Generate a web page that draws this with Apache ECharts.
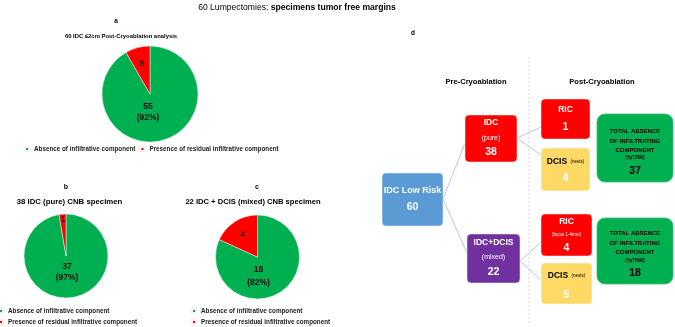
<!DOCTYPE html>
<html>
<head>
<meta charset="utf-8">
<script src="https://cdn.jsdelivr.net/npm/echarts@6/dist/echarts.min.js"></script>
<style>html,body{margin:0;padding:0;background:#fff}#c{width:675px;height:327px}</style>
</head>
<body>
<div id="c"></div>
<script>
// ---------- data ----------
const pieCategories = ['Absence of infiltrative component', 'Presence of residual infiltrative component'];
const pieAValues = [55, 5];
const pieBValues = [37, 1];
const pieCValues = [18, 4];
const pieTitles = ['60 IDC \u22642cm Post-Cryoablation analysis', '38 IDC (pure) CNB specimen', '22 IDC + DCIS (mixed) CNB specimen'];
const panelLetters = ['a', 'b', 'c', 'd'];
const mainTitleRegular = '60 Lumpectomies: ';
const mainTitleBold = 'specimens tumor free margins';
const phaseLabels = ['Pre-Cryoablation', 'Post-Cryoablation'];
// flow diagram counts
const totalCount = 60;
const pureCount = 38, mixedCount = 22;
const pureRIC = 1, pureDCIS = 4, pureFree = 37;
const mixedRIC = 4, mixedDCIS = 5, mixedFree = 18;

// ---------- styles ----------
const FF = '"Liberation Sans Narrow","Liberation Sans",Arial,sans-serif';
const GREEN = '#00B050', RED = '#FF0000';
const font = (size, bold) => (bold ? 'bold ' : '') + size + 'px ' + FF;

function txt(x, y, text, size, bold, color) {
  return { type: 'text', x: x, y: y, silent: true,
    style: { text: text, font: font(size, bold), fill: color || '#000',
      align: 'center', verticalAlign: 'middle', textAlign: 'center', textVerticalAlign: 'middle' } };
}
function box(x, y, w, h, r, fill, stroke) {
  return { type: 'rect', silent: true, shape: { x: x, y: y, width: w, height: h, r: r },
    style: { fill: fill, stroke: stroke || 'rgba(255,255,255,0.6)', lineWidth: 0.8 } };
}
function line(pts) {
  return { type: 'polyline', silent: true, shape: { points: pts }, style: { stroke: '#9DBBE0', lineWidth: 0.8, fill: null } };
}

const els = [];
// main title (mixed weights)
els.push({ type: 'text', x: 297, y: 8, silent: true,
  style: { text: '{n|' + mainTitleRegular + '}{b|' + mainTitleBold + '}', align: 'center', verticalAlign: 'middle',
    textAlign: 'center', textVerticalAlign: 'middle',
    rich: { n: { fontSize: 8.6, fontFamily: FF, color: '#000' }, b: { fontSize: 8.6, fontFamily: FF, fontWeight: 'bold', color: '#000' } } } });
// letters and pie titles
els.push(txt(116, 21, panelLetters[0], 6.5, true));
els.push(txt(66, 187, panelLetters[1], 7, true));
els.push(txt(257, 187, panelLetters[2], 7, true));
els.push(txt(413, 33, panelLetters[3], 6.5, true));
els.push(txt(121, 36, pieTitles[0], 5.9, true));
els.push(txt(69.5, 202, pieTitles[1], 7.8, true));
els.push(txt(253, 202, pieTitles[2], 7.6, true));

// dashed separator
els.push({ type: 'line', silent: true, shape: { x1: 529, y1: 57, x2: 529, y2: 325 },
  style: { stroke: '#C8C8C8', lineWidth: 0.8, lineDash: [2, 2] } });
els.push(txt(476, 82, phaseLabels[0], 7.6, true));
els.push(txt(602, 82, phaseLabels[1], 7.6, true));

// connectors
els.push(line([[465, 143], [443, 199], [467, 253]]));
els.push(line([[541, 127], [517, 138], [541, 155]]));
els.push(line([[541, 242], [520, 261], [541, 280]]));

// boxes
els.push(box(382, 173, 61, 53, 4, '#5B9BD5'));
els.push(txt(412.5, 191, 'IDC Low Risk', 9, true, '#fff'));
els.push(txt(412.5, 207, String(totalCount), 10.5, true, '#fff'));

els.push(box(465, 115, 52, 47, 4, RED));
els.push(txt(491, 123, 'IDC', 8.5, true, '#fff'));
els.push(txt(491, 138, '(pure)', 7, false, '#fff'));
els.push(txt(491, 152, String(pureCount), 10.5, true, '#fff'));

els.push(box(467, 234, 53, 49, 4, '#7030A0'));
els.push(txt(493.5, 243, 'IDC+DCIS', 8.5, true, '#fff'));
els.push(txt(493.5, 257, '(mixed)', 7, false, '#fff'));
els.push(txt(493.5, 272, String(mixedCount), 10.5, true, '#fff'));

els.push(box(541, 99, 49, 40, 4, RED));
els.push(txt(565.5, 110, 'RIC', 8.5, true, '#fff'));
els.push(txt(565.5, 127, String(pureRIC), 10.5, true, '#fff'));

els.push(box(541, 148, 49, 43, 4, '#FFD966'));
els.push({ type: 'text', x: 565.5, y: 162, silent: true, style: { text: '{b|DCIS} {s|(nests)}', align: 'center', verticalAlign: 'middle', textAlign: 'center', textVerticalAlign: 'middle',
  rich: { b: { fontSize: 8.5, fontWeight: 'bold', fontFamily: FF, color: '#fff' }, s: { fontSize: 4.5, fontFamily: FF, color: '#fff' } } } });
els.push(txt(565.5, 178, String(pureDCIS), 10.5, true, '#fff'));

els.push(box(597, 114, 76, 68, 8, GREEN, '#3CC070'));
els.push(txt(635, 131, 'TOTAL ABSENCE', 6, true, '#000'));
els.push(txt(635, 141, 'OF INFILTRATING', 6, true, '#000'));
els.push(txt(635, 150, 'COMPONENT', 6, true, '#000'));
els.push(txt(635, 157.5, '(YpT0N0)', 4.5, true, '#000'));
els.push(txt(635, 171, String(pureFree), 10.5, true, '#000'));

els.push(box(541, 214, 51, 42, 4, RED));
els.push(txt(566.5, 222, 'RIC', 8.5, true, '#fff'));
els.push(txt(566.5, 235, '(focus 1-4mm)', 4.5, false, '#fff'));
els.push(txt(566.5, 248, String(mixedRIC), 10.5, true, '#fff'));

els.push(box(541, 263, 51, 41, 4, '#FFD966'));
els.push({ type: 'text', x: 566.5, y: 276, silent: true, style: { text: '{b|DCIS} {s|(nests)}', align: 'center', verticalAlign: 'middle', textAlign: 'center', textVerticalAlign: 'middle',
  rich: { b: { fontSize: 8.5, fontWeight: 'bold', fontFamily: FF, color: '#fff' }, s: { fontSize: 4.5, fontFamily: FF, color: '#fff' } } } });
els.push(txt(566.5, 295, String(mixedDCIS), 10.5, true, '#fff'));

els.push(box(597, 218, 76, 66, 8, GREEN, '#3CC070'));
els.push(txt(635, 233, 'TOTAL ABSENCE', 6, true, '#000'));
els.push(txt(635, 243, 'OF INFILTRATING', 6, true, '#000'));
els.push(txt(635, 252, 'COMPONENT', 6, true, '#000'));
els.push(txt(635, 261, '(YpT0N0)', 4.5, true, '#000'));
els.push(txt(635, 273, String(mixedFree), 10.5, true, '#000'));

// ---------- pies ----------
function pieSeries(values, center, radius, offsets, lh) {
  return {
    type: 'pie', center: center, radius: radius, startAngle: 90, clockwise: true,
    avoidLabelOverlap: false, silent: true, animation: false, percentPrecision: 0,
    itemStyle: { borderColor: '#f2f2f2', borderWidth: 0.5 },
    label: { show: true, position: 'inside', color: '#111', fontWeight: 'bold', fontSize: 8.5, lineHeight: lh, fontFamily: FF,
      formatter: p => p.dataIndex === 0 ? p.value + '\n(' + p.percent + '%)' : String(p.value) },
    labelLine: { show: false },
    labelLayout: p => ({ dx: offsets[p.dataIndex][0], dy: offsets[p.dataIndex][1] }),
    emphasis: { disabled: true },
    data: pieCategories.map((n, i) => ({ name: n, value: values[i], itemStyle: { color: i === 0 ? GREEN : RED } }))
  };
}
const legendBase = { icon: 'rect', itemWidth: 4, itemHeight: 4, padding: 0, selectedMode: false,
  textStyle: { fontSize: 6.3, fontWeight: 'bold', color: '#222', fontFamily: FF, lineHeight: 8 } };

const chart = echarts.init(document.getElementById('c'), null, { renderer: 'canvas' });
chart.setOption({
  animation: false,
  legend: [
    Object.assign({}, legendBase, { data: pieCategories, orient: 'horizontal', left: 24, top: 145, itemGap: 4 }),
    Object.assign({}, legendBase, { data: pieCategories, orient: 'vertical', left: -2, top: 307, itemGap: 3 }),
    Object.assign({}, legendBase, { data: pieCategories, orient: 'vertical', left: 191, top: 307, itemGap: 3 })
  ],
  series: [
    pieSeries(pieAValues, [150, 94], 48, [[-9, -8], [-1, -4]], 11),
    pieSeries(pieBValues, [66, 256], 42, [[-1, -8], [-1, -12]], 11),
    pieSeries(pieCValues, [257.5, 257], 42, [[-12, -1.5], [-2, -2]], 13)
  ],
  graphic: { elements: els }
});
</script>
</body>
</html>
